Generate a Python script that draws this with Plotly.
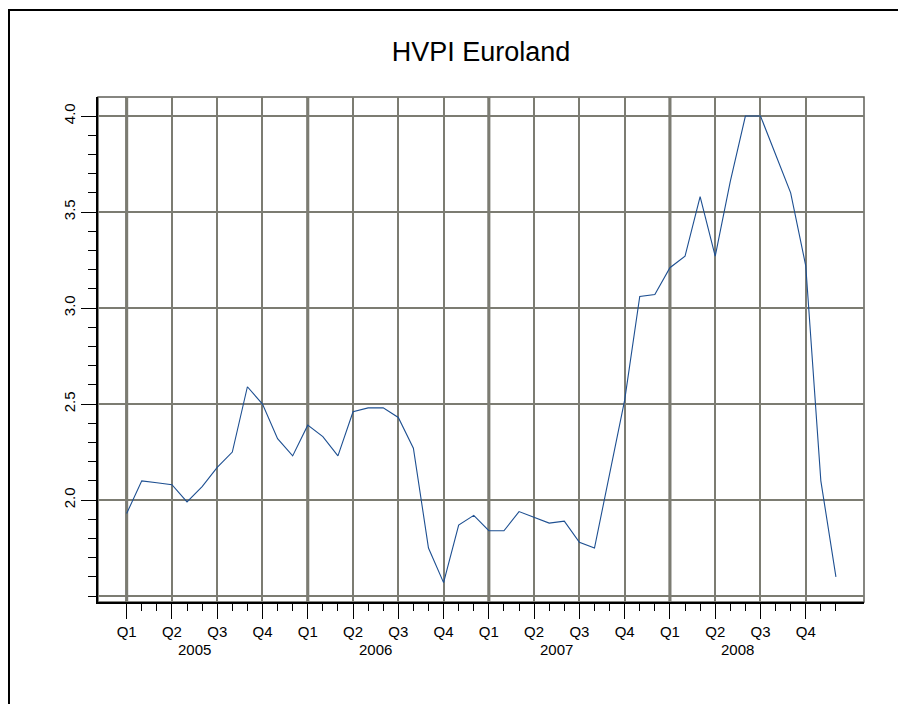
import plotly.graph_objects as go

# ---- data ----
years = ["2005", "2006", "2007", "2008"]
quarters = ["Q1", "Q2", "Q3", "Q4"]
months = [f"{y}-{m:02d}" for y in years for m in range(1, 13)]
hvpi = [1.93, 2.10, 2.09, 2.08, 1.99, 2.07, 2.17, 2.25, 2.59, 2.50, 2.32, 2.23,
        2.39, 2.33, 2.23, 2.46, 2.48, 2.48, 2.43, 2.27, 1.75, 1.57, 1.87, 1.92,
        1.84, 1.84, 1.94, 1.91, 1.88, 1.89, 1.78, 1.75, 2.13, 2.52, 3.06, 3.07,
        3.21, 3.27, 3.58, 3.27, 3.66, 4.00, 4.00, 3.80, 3.60, 3.22, 2.10, 1.60]
y_tickvals = [1.5, 2.0, 2.5, 3.0, 3.5, 4.0]
y_ticktext = ["", "2.0", "2.5", "3.0", "3.5", "4.0"]

# ---- derived positions ----
x_idx = list(range(len(months)))
q_vals = [i for i in x_idx if i % 3 == 0]
q_text = [quarters[(i // 3) % 4] for i in q_vals]
year_start = [12 * k for k in range(len(years))]
year_mid = [12 * k + 4.5 for k in range(len(years))]
y_minor = [round(1.5 + 0.1 * i, 2) for i in range(26)]

FONT = "Liberation Sans, Arial, Helvetica, sans-serif"
GRID = "#7c7c72"
W, H = 898, 696  # page body has an 8px margin

fig = go.Figure()
fig.add_trace(go.Scatter(x=x_idx, y=hvpi, mode="lines",
                         line=dict(color="#1d4f91", width=1.1),
                         hoverinfo="skip"))

shapes = []
# outer border
shapes.append(dict(type="rect", xref="paper", yref="paper",
                   x0=-0.1162, x1=1.3, y0=-0.5, y1=1.1723,
                   line=dict(color="black", width=2), fillcolor="rgba(0,0,0,0)",
                   layer="below"))
# plot frame
shapes.append(dict(type="rect", xref="paper", yref="paper",
                   x0=0, x1=1, y0=0, y1=1,
                   line=dict(color="#5f5f58", width=1.5), fillcolor="rgba(0,0,0,0)",
                   layer="between"))
# year grid lines (thicker)
for xs in year_start:
    shapes.append(dict(type="line", xref="x", yref="paper", x0=xs, x1=xs, y0=0, y1=1,
                       line=dict(color="#6a6a61", width=3), layer="between"))

annotations = [dict(x=xm, y=-0.095, xref="x", yref="paper", text=yr,
                    showarrow=False, xanchor="center", yanchor="middle",
                    font=dict(size=15, color="black", family=FONT))
               for xm, yr in zip(year_mid, years)]

fig.update_layout(
    width=W, height=H,
    margin=dict(l=90, r=42, t=89, b=102),
    paper_bgcolor="white", plot_bgcolor="white",
    showlegend=False,
    font=dict(family=FONT, color="black", size=15),
    title=dict(text="HVPI Euroland", x=0.5, xref="paper", xanchor="center",
               y=1 - 44 / H, yref="container", yanchor="middle",
               font=dict(size=27, color="black", family=FONT)),
    shapes=shapes,
    annotations=annotations,
    xaxis=dict(range=[-1.9, 48.86], tickmode="array", tickvals=q_vals, ticktext=q_text,
               ticks="outside", ticklen=15, tickwidth=1, tickcolor="black",
               showgrid=True, gridcolor=GRID, gridwidth=2,
               showline=True, linecolor="black", linewidth=1.5,
               zeroline=False, tickfont=dict(size=15, color="black"),
               minor=dict(tickmode="array", tickvals=x_idx, ticks="outside",
                          ticklen=7, tickwidth=1, tickcolor="black", showgrid=False)),
    yaxis=dict(range=[1.469, 4.099], tickmode="array", tickvals=y_tickvals,
               ticktext=y_ticktext, tickangle=-90,
               ticks="outside", ticklen=15, tickwidth=1, tickcolor="black",
               showgrid=True, gridcolor=GRID, gridwidth=2,
               showline=True, linecolor="black", linewidth=1.5,
               zeroline=False, tickfont=dict(size=15, color="black"),
               minor=dict(tickmode="array", tickvals=y_minor, ticks="outside",
                          ticklen=8, tickwidth=1, tickcolor="black", showgrid=False)),
)

fig.write_html("out.html")
